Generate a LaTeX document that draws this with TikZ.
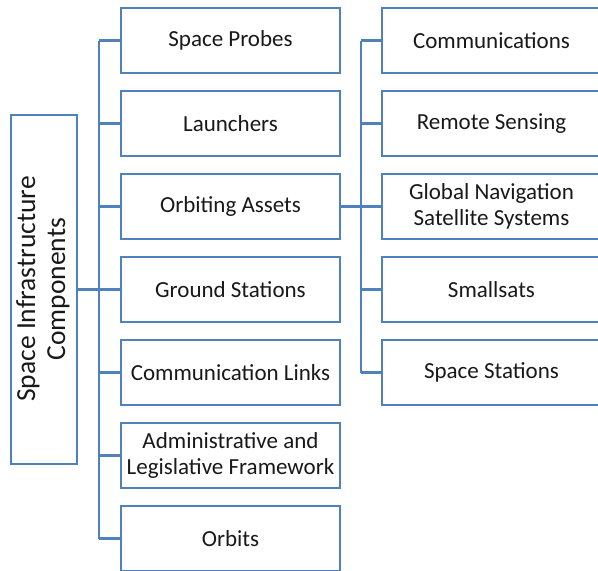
\documentclass[tikz,border=0pt]{standalone}
\usepackage{fontspec}
\setmainfont{Carlito}
\begin{document}
\begin{tikzpicture}[x=1pt,y=-1pt,
  box/.style={draw=bl,line width=2.2pt,fill=white,minimum width=219pt,minimum height=65pt,inner sep=0pt,align=center,font=\fontsize{23}{26}\selectfont,text=black!90},
  rbox/.style={box,minimum width=219pt},
  conn/.style={draw=bl,line width=2.2pt}]
\definecolor{bl}{HTML}{4F81BD}
\clip (0,0) rectangle (598,571);
\fill[white] (0,0) rectangle (598,571);
% root
\node[draw=bl,line width=2.2pt,minimum width=66pt,minimum height=349pt,inner sep=0pt] (root) at (44,289.5) {};
\node[rotate=90,align=center,font=\fontsize{27.5}{30}\selectfont,text=black!90] (roott) at (43,289) {Space Infrastructure\\Components};
% middle column
\node[box] (m1) at (230.5,40.5) {Space Probes};
\node[box] (m2) at (230.5,123.5) {Launchers};
\node[box] (m3) at (230.5,206.5) {Orbiting Assets};
\node[box] (m4) at (230.5,289.5) {Ground Stations};
\node[box] (m5) at (230.5,372.5) {Communication Links};
\node[box] (m6) at (230.5,455.5) {Administrative and\\Legislative Framework};
\node[box] (m7) at (230.5,538.5) {Orbits};
% right column
\node[rbox] (r1) at (491.5,40.5) {Communications};
\node[rbox] (r2) at (491.5,123.5) {Remote Sensing};
\node[rbox] (r3) at (491.5,206.5) {Global Navigation\\Satellite Systems};
\node[rbox] (r4) at (491.5,289.5) {Smallsats};
\node[rbox] (r5) at (491.5,372.5) {Space Stations};
% connectors
\coordinate (t1) at (99,0);
\coordinate (t2) at (361,0);
\draw[conn] (root.east) -- (root.east -| t1);
\draw[conn] (m1.west -| t1) -- (m7.west -| t1);
\foreach \m in {m1,m2,m3,m4,m5,m6,m7} \draw[conn] (\m.west -| t1) -- (\m.west);
\draw[conn] (m3.east) -- (m3.east -| t2);
\draw[conn] (r1.west -| t2) -- (r5.west -| t2);
\foreach \r in {r1,r2,r3,r4,r5} \draw[conn] (\r.west -| t2) -- (\r.west);
\end{tikzpicture}
\end{document}
